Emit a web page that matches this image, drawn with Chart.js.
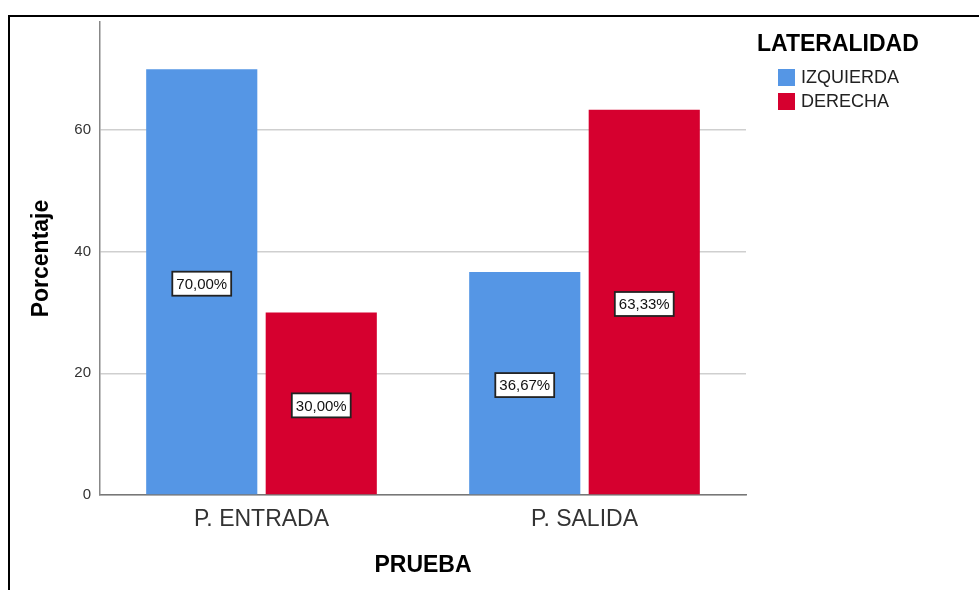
<!DOCTYPE html>
<html>
<head>
<meta charset="utf-8">
<script src="https://cdn.jsdelivr.net/npm/chart.js@4.4.0/dist/chart.umd.min.js"></script>
<style>
  body { margin: 0; background: #fff; }
  #wrap { position: relative; width: 979px; height: 590px; overflow: hidden; }
  #frame { position: absolute; left: 8px; top: 15px; right: -4px; bottom: -4px;
           border-left: 2px solid #000; border-top: 2px solid #000; }
  #line-chart { position: absolute; left: 0; top: 0; }
  #legend { position: absolute; left: 757px; top: 29px; font-family: "Liberation Sans", Arial, sans-serif; }
  #legend .ttl { font-weight: bold; font-size: 23px; line-height: 28px; color: #000; }
  #legend .items { margin-top: 8px; padding-left: 21px; }
  #legend .row { display: flex; align-items: center; height: 24px; font-size: 18px; color: #222; }
  #legend .sw { width: 17px; height: 17px; margin-right: 6px; }
</style>
</head>
<body>
<div id="wrap">
  <div id="frame"></div>
  <canvas id="line-chart" width="979" height="590"></canvas>
  <div id="legend"><div class="ttl">LATERALIDAD</div><div class="items"></div></div>
</div>
<script>
var pruebas = ["P. ENTRADA", "P. SALIDA"];
var izquierda = [70.00, 36.67];
var derecha = [30.00, 63.33];
var seriesNames = ["IZQUIERDA", "DERECHA"];
var seriesColors = ["#5596e5", "#d6002f"];

const fnt = '"Liberation Sans", Arial, sans-serif';

// white label boxes in the middle of each bar
const pctLabels = {
  id: "pctLabels",
  afterDatasetsDraw(chart) {
    const ctx = chart.ctx;
    ctx.save();
    ctx.font = "15px " + fnt;
    ctx.textAlign = "center";
    ctx.textBaseline = "middle";
    chart.data.datasets.forEach((ds, i) => {
      chart.getDatasetMeta(i).data.forEach((bar, j) => {
        let txt = ds.data[j].toFixed(2).replace(".", ",") + "%";
        let cy = (bar.y + bar.base) / 2 + 2;
        let w = ctx.measureText(txt).width + 8;
        let h = 24;
        ctx.fillStyle = "#fff";
        ctx.fillRect(bar.x - w / 2, cy - h / 2, w, h);
        ctx.strokeStyle = "#222";
        ctx.lineWidth = 1.8;
        ctx.strokeRect(bar.x - w / 2, cy - h / 2, w, h);
        ctx.fillStyle = "#111";
        ctx.fillText(txt, bar.x, cy + 1);
      });
    });
    ctx.restore();
  }
};

let muhBars = new Chart(document.getElementById("line-chart"), {
  type: "bar",
  data: {
    labels: pruebas,
    datasets: [
      { label: seriesNames[0], data: izquierda, backgroundColor: seriesColors[0] },
      { label: seriesNames[1], data: derecha, backgroundColor: seriesColors[1] }
    ]
  },
  options: {
    responsive: false,
    animation: false,
    categoryPercentage: 0.74,
    barPercentage: 0.93,
    layout: { padding: { left: 0, top: 22, right: 233, bottom: 0 } },
    plugins: { legend: { display: false }, tooltip: { enabled: false } },
    scales: {
      x: {
        grid: { display: false },
        border: { color: "#777", width: 1.5 },
        ticks: { color: "#333", padding: 3, font: { family: fnt, size: 23 } },
        title: { display: true, text: "PRUEBA", color: "#000",
                 font: { family: fnt, size: 23, weight: "bold" }, padding: { top: 0, bottom: 11 } },
        afterFit: (s) => { s.height = 95; }
      },
      y: {
        min: 0,
        max: 77.75,
        ticks: { stepSize: 20, color: "#333", padding: 9, font: { family: fnt, size: 15 } },
        afterBuildTicks: (s) => { s.ticks = s.ticks.filter(t => t.value % 20 === 0); },
        grid: { color: "#cfcfcf", lineWidth: 1.5, drawTicks: false },
        border: { color: "#888", width: 1.5 },
        title: { display: true, text: "Porcentaje", color: "#000",
                 font: { family: fnt, size: 23, weight: "bold" }, padding: { top: 28, bottom: 0 } },
        afterFit: (s) => { s.width = 100; }
      }
    }
  },
  plugins: [pctLabels]
});

// legend
const items = document.querySelector("#legend .items");
seriesNames.forEach((n, i) => {
  items.innerHTML += '<div class="row"><span class="sw" style="background:' + seriesColors[i] + '"></span>' + n + '</div>';
});
</script>
</body>
</html>
